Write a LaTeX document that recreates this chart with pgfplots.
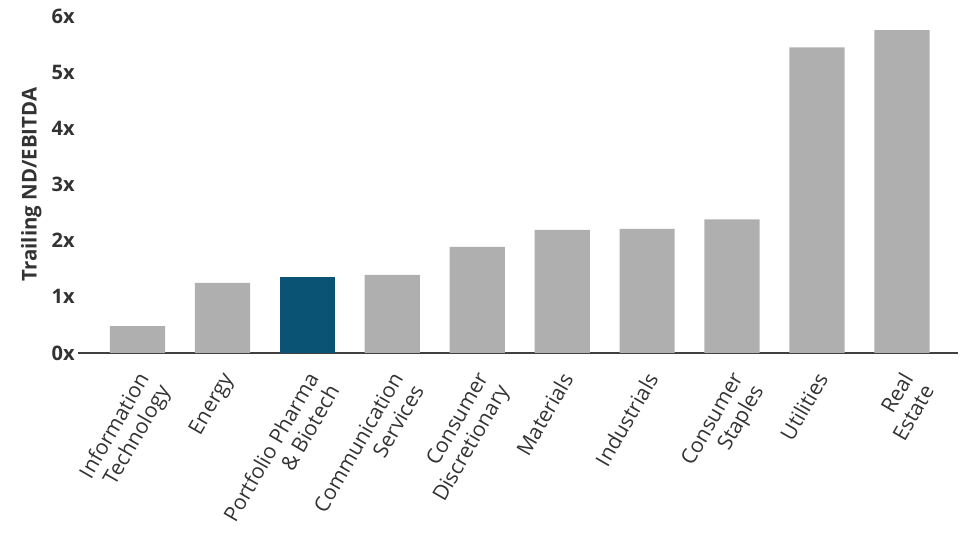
\documentclass[border=0pt]{standalone}
\usepackage{pgfplots}
\pgfplotsset{compat=1.18}
\usepackage{fontspec}
\setmainfont{Open Sans}
\definecolor{bargray}{HTML}{AFAFAF}
\definecolor{barteal}{HTML}{0B5375}
\definecolor{axisgray}{HTML}{404040}
\definecolor{txt}{HTML}{333333}
\begin{document}
\begin{tikzpicture}
\useasboundingbox (-58.5pt,-135.75pt) rectangle (676.5pt,264.75pt);
\begin{axis}[
  at={(0pt,0pt)}, anchor=south west,
  scale only axis,
  width=660pt, height=252.75pt,
  xmin=-0.7, xmax=9.66,
  ymin=0, ymax=6,
  axis lines=left,
  axis line style={-},
  x axis line style={draw=axisgray, line width=2.2pt},
  y axis line style={draw=none},
  major tick length=0pt,
  ytick={0,1,2,3,4,5,6},
  yticklabels={0x,1x,2x,3x,4x,5x,6x},
  yticklabel style={font=\fontsize{15}{17}\selectfont\bfseries, text=txt, xshift=1pt},
  xtick={0,...,9},
  xticklabels={{Information\\Technology},Energy,{Portfolio Pharma\\\& Biotech},{Communication\\Services},{Consumer\\Discretionary},Materials,Industrials,{Consumer\\Staples},Utilities,{Real\\Estate}},
  xticklabel style={rotate=60, anchor=north east, inner sep=0pt, align=right, font=\fontsize{15.8}{18}\selectfont, text=txt, xshift=-12pt, yshift=-5.2pt},
  ylabel={Trailing ND/EBITDA},
  ylabel style={font=\fontsize{15.3}{17}\selectfont\bfseries, text=txt, at={(axis description cs:-0.053,0.5)}, anchor=center},
  ybar, bar width=0.65, bar shift=0pt,
  clip=false,
]
\addplot[fill=bargray, draw=none] coordinates {(0,0.48) (1,1.25) (3,1.39) (4,1.89) (5,2.19) (6,2.21) (7,2.38) (8,5.44) (9,5.75)};
\addplot[fill=barteal, draw=none] coordinates {(2,1.35)};
\end{axis}
\end{tikzpicture}
\end{document}
